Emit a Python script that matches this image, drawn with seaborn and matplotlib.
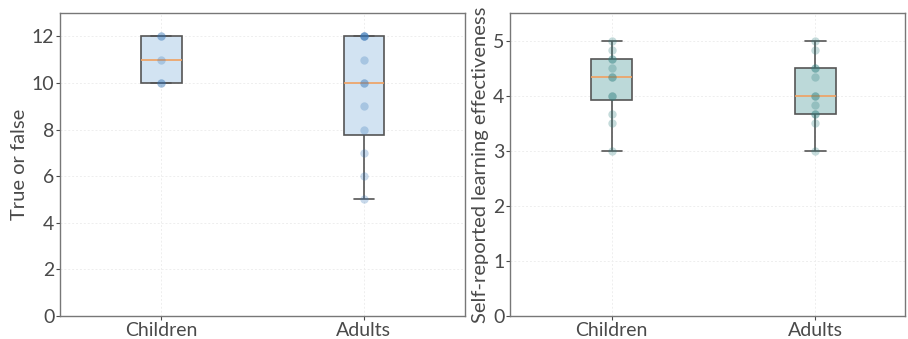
import matplotlib
matplotlib.use("Agg")
import matplotlib.pyplot as plt
import seaborn as sns
import pandas as pd

# groups
groups = ["Children", "Adults"]

# true or false scores (left panel)
tf_children = [10, 10, 11, 12, 12]
tf_adults = [5, 6, 7, 8, 9, 10, 10, 11, 12, 12, 12, 12]

# self-reported learning effectiveness (right panel)
eff_children = [3, 3.5, 3.67, 4, 4, 4.33, 4.33, 4.5, 4.67, 4.67, 4.83, 5]
eff_adults = [3, 3.5, 3.67, 3.67, 3.83, 4, 4, 4.33, 4.5, 4.5, 4.83, 5]

left_ticks = [0, 2, 4, 6, 8, 10, 12]
right_ticks = [0, 1, 2, 3, 4, 5]


def long_df(a, b):
    return pd.DataFrame({
        "group": [groups[0]] * len(a) + [groups[1]] * len(b),
        "value": list(a) + list(b),
    })


sns.set_theme(style="white")
plt.rcParams['font.family'] = ['Lato', 'DejaVu Sans']
TXT = "#4a4a4a"

fig = plt.figure(figsize=(9.08, 3.39), dpi=100)
ax1 = fig.add_axes([60 / 908, 23 / 339, 405 / 908, 303 / 339])
ax2 = fig.add_axes([510 / 908, 23 / 339, 395 / 908, 303 / 339])


def panel(ax, df, fill, dot, ylabel, ylim, ticks, xmax):
    sns.boxplot(data=df, x="group", y="value", order=groups, ax=ax,
                width=0.2, color=fill, saturation=1, linecolor="#555555",
                linewidth=1.2, showfliers=False,
                medianprops={"color": "#f0a060", "linewidth": 1.2})
    sns.stripplot(data=df, x="group", y="value", order=groups, ax=ax,
                  jitter=False, color=dot, alpha=0.28, size=6, zorder=5)
    ax.set_xlim(-0.5, xmax)
    ax.set_ylim(*ylim)
    ax.set_yticks(ticks)
    ax.set_xlabel("")
    ax.set_ylabel(ylabel, fontsize=14.5, color=TXT, labelpad=3)
    ax.tick_params(axis="both", labelsize=14, colors=TXT, length=3,
                   width=0.8, left=True, bottom=True, pad=1)
    ax.grid(True, which="major", color="#eeeeee", linestyle=(0, (2, 2)),
            linewidth=0.7, zorder=0)
    ax.set_axisbelow(True)
    for s in ax.spines.values():
        s.set_color("#777777")
        s.set_linewidth(1.0)


panel(ax1, long_df(tf_children, tf_adults), "#d2e3f2", "#3a78b8",
      "True or false", (0, 13), left_ticks, 1.5)
panel(ax2, long_df(eff_children, eff_adults), "#bcd9d9", "#2f7f7f",
      "Self-reported learning effectiveness", (0, 5.5), right_ticks, 1.44)

fig.savefig("out.png", dpi=100)
